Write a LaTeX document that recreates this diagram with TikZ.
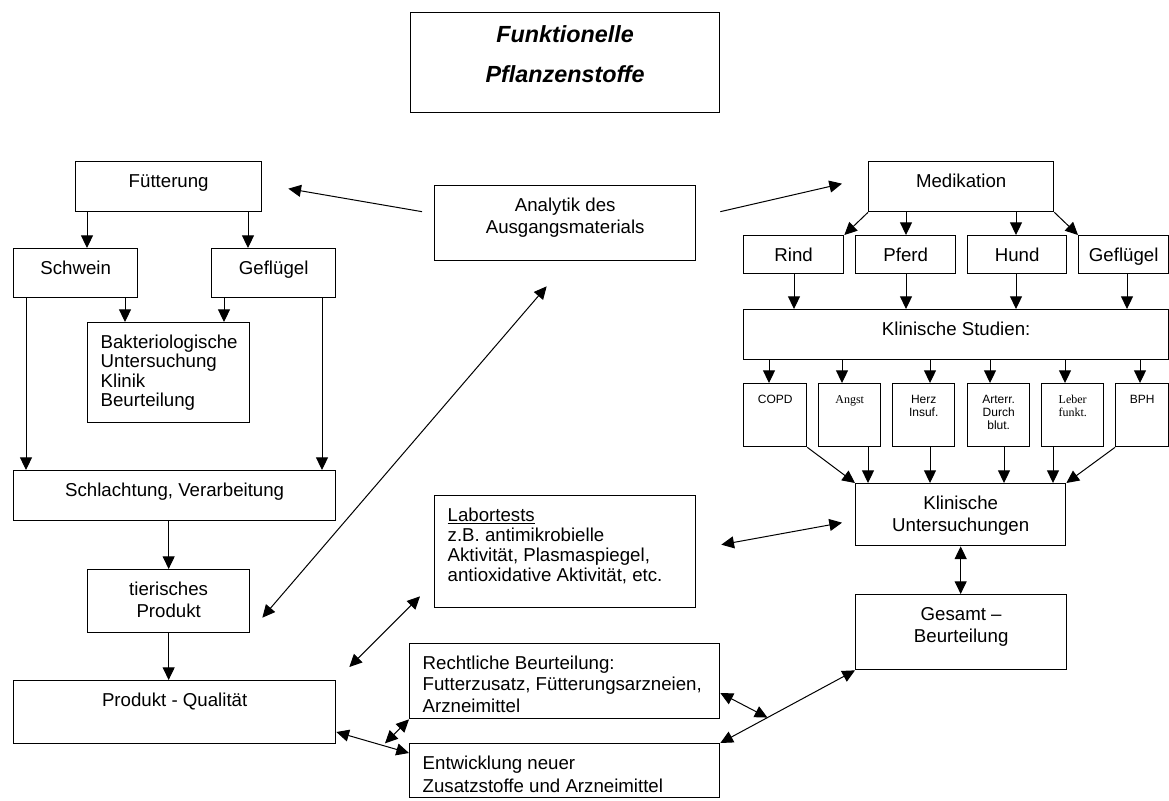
\documentclass[tikz,border=0pt]{standalone}
\usepackage{fontspec}
\setmainfont{Liberation Sans}
\newfontfamily\timesfont{Liberation Serif}
\usepackage{tikz}
\usetikzlibrary{arrows.meta, calc, positioning}
\newdimen\px
\px=0.75pt
\tikzset{
kasten/.style 2 args={draw, line width=1pt, inner sep=0pt, anchor=north west,
  execute at begin node={\begin{minipage}[c][#2\px][t]{#1\px}\centering\rule{0pt}{\oben}\relax},
  execute at end node={\end{minipage}}},
kastenlinks/.style 2 args={draw, line width=1pt, inner sep=0pt, anchor=north west,
  execute at begin node={\begin{minipage}[c][#2\px][t]{#1\px}\raggedright\leftskip=13\px\relax\rule{0pt}{\oben}\relax},
  execute at end node={\end{minipage}}},
oben/.store in=\oben, oben=19.3pt,
klein/.style={font=\fontsize{9}{10}\selectfont, oben=14.5pt},
kleinserif/.style={klein, font=\fontsize{9}{10}\selectfont\timesfont},
}

\begin{document}
\begin{tikzpicture}[x=0.75pt, y=-0.75pt, >={Triangle[length=9.5pt,width=9pt]}, font=\fontsize{14}{16.5}\selectfont]
\useasboundingbox (0,0) rectangle (1169,800);

\node[kasten={309}{100}, font=\fontsize{17.5}{30}\selectfont\bfseries\itshape, oben=22.7pt] (titel) at (410,12) {Funktionelle\\Pflanzenstoffe};

% Fuetterung
\node[kasten={186}{50}] (fuetterung) at (75,161) {Fütterung};
\node[kasten={124}{49}] (schwein) at (13,248) {Schwein};
\node[kasten={124}{49}] (gefluegel1) at (211,248) {Geflügel};
\node[kastenlinks={162}{100}, font=\fontsize{14}{14.5}\selectfont] (bakt) at (87,322) {Bakteriologische\\Untersuchung\\Klinik\\Beurteilung};
\node[kasten={322}{50}] (schlachtung) at (13,470) {Schlachtung, Verarbeitung};
\node[kasten={162}{63}] (tierisch) at (87,569) {tierisches\\Produkt};
\node[kasten={322}{63}] (qualitaet) at (13,680) {Produkt - Qualität};

% Mitte
\node[kasten={261}{75}] (analytik) at (434,185) {Analytik des\\Ausgangsmaterials};
\node[kastenlinks={261}{112}, font=\fontsize{14}{15}\selectfont] (labor) at (434,495) {\underline{Labortests}\\z.B. antimikrobielle\\Aktivität, Plasmaspiegel,\\antioxidative Aktivität, etc.};
\node[kastenlinks={310}{75}, font=\fontsize{14}{16}\selectfont] (recht) at (409,643) {Rechtliche Beurteilung:\\Futterzusatz, Fütterungsarzneien,\\Arzneimittel};
\node[kastenlinks={310}{54}, font=\fontsize{14}{17}\selectfont] (entw) at (409,743) {Entwicklung neuer\\Zusatzstoffe und Arzneimittel};

% Medikation
\node[kasten={185}{50}] (medikation) at (868,161) {Medikation};
\node[kasten={100}{38}] (rind) at (743,235) {Rind};
\node[kasten={100}{38}] (pferd) at (855,235) {Pferd};
\node[kasten={99}{38}] (hund) at (967,235) {Hund};
\node[kasten={90}{38}] (gefluegel2) at (1078,235) {Geflügel};
\node[kasten={425}{50}] (studien) at (743,309) {Klinische Studien:};
\node[kasten={63}{63}, klein] (copd) at (743,383) {COPD};
\node[kasten={62}{63}, kleinserif] (angst) at (818,383) {Angst};
\node[kasten={62}{63}, klein] (herz) at (892,383) {Herz\\Insuf.};
\node[kasten={62}{63}, klein] (arterr) at (967,383) {Arterr.\\Durch\\blut.};
\node[kasten={62}{63}, kleinserif] (leber) at (1041,383) {Leber\\funkt.};
\node[kasten={53}{63}, klein] (bph) at (1115,383) {BPH};
\node[kasten={210}{62}] (klinisch) at (855,483) {Klinische\\Untersuchungen};
\node[kasten={211}{75}] (gesamt) at (855,594) {Gesamt –\\Beurteilung};

\begin{scope}[line width=0.75pt]
\draw[->] (fuetterung.south -| 87,0) -- (schwein.north -| 87,0);
\draw[->] (fuetterung.south -| 248,0) -- (gefluegel1.north -| 248,0);
\draw[->] (schwein.south -| 125,0) -- (bakt.north -| 125,0);
\draw[->] (gefluegel1.south -| 224,0) -- (bakt.north -| 224,0);
\draw[->] (schwein.south -| 26,0) -- (schlachtung.north -| 26,0);
\draw[->] (gefluegel1.south -| 322,0) -- (schlachtung.north -| 322,0);
\draw[->] (schlachtung.south -| tierisch.north) -- (tierisch.north);
\draw[->] (tierisch.south) -- (qualitaet.north -| tierisch.south);

\draw[->] ([shift={(-12,-11.5)}]analytik.west) -- ([shift={(26,2)}]fuetterung.east);
\draw[->] ([shift={(24,-11.5)}]analytik.east) -- ([shift={(-26,-3)}]medikation.west);
\draw[<->] ([shift={(12,16.5)}]tierisch.east) -- ([shift={(-18.5,25)}]analytik.south);
\draw[<->] ([shift={(-14,-12)}]labor.south west) -- ([shift={(13,-13)}]qualitaet.north east);
\draw[<->] ([shift={(25,-7)}]labor.east) -- ([shift={(-13,8)}]klinisch.west);
\draw[<->] (qualitaet.east |- 0,732) -- (entw.west |- 0,753);
\draw[<->] (recht.south west) -- ++(-24,24);
\draw[<->] (gesamt.south west) -- (entw.north east);
\draw[<->] (recht.east |- 0,693) -- ($(gesamt.south west)!0.65!(entw.north east)$);
\draw[<->] (klinisch.south) -- (gesamt.north -| klinisch.south);

\draw[->] (medikation.south west) -- (rind.north east);
\draw[->] (medikation.south -| 906,0) -- (pferd.north -| 906,0);
\draw[->] (medikation.south -| 1016,0) -- (hund.north -| 1016,0);
\draw[->] (medikation.south east) -- (gefluegel2.north west);

\draw[->] (rind.south -| 794,0) -- (studien.north -| 794,0);
\draw[->] (pferd.south -| 906,0) -- (studien.north -| 906,0);
\draw[->] (hund.south -| 1016,0) -- (studien.north -| 1016,0);
\draw[->] (gefluegel2.south -| 1127,0) -- (studien.north -| 1127,0);

\draw[->] (studien.south -| 769,0) -- (copd.north -| 769,0);
\draw[->] (studien.south -| 842,0) -- (angst.north -| 842,0);
\draw[->] (studien.south -| 930,0) -- (herz.north -| 930,0);
\draw[->] (studien.south -| 990,0) -- (arterr.north -| 990,0);
\draw[->] (studien.south -| 1065,0) -- (leber.north -| 1065,0);
\draw[->] (studien.south -| 1140,0) -- (bph.north -| 1140,0);

\draw[->] (copd.south east) -- (klinisch.north west);
\draw[->] (angst.south -| 868,0) -- (klinisch.north -| 868,0);
\draw[->] (herz.south -| 930,0) -- (klinisch.north -| 930,0);
\draw[->] (arterr.south -| 1004,0) -- (klinisch.north -| 1004,0);
\draw[->] (leber.south -| 1053,0) -- (klinisch.north -| 1053,0);
\draw[->] (bph.south west) -- (klinisch.north east);
\end{scope}
\end{tikzpicture}
\end{document}
